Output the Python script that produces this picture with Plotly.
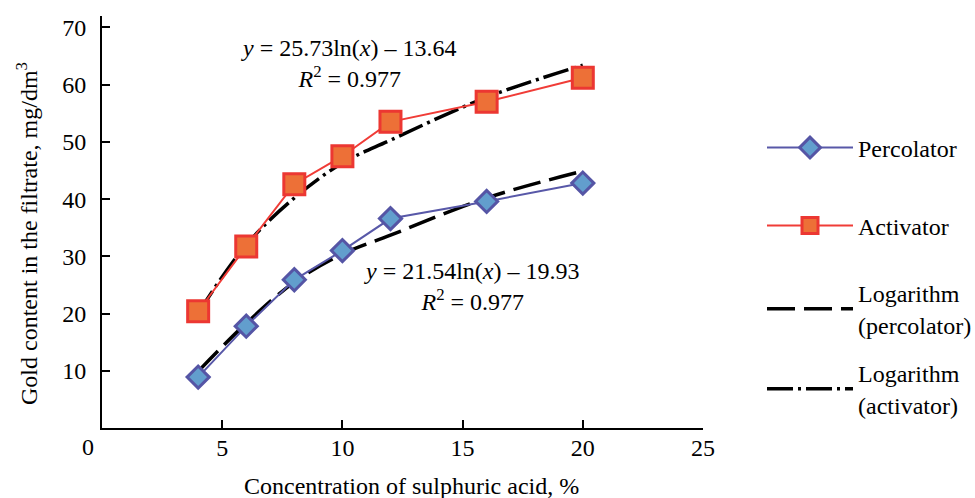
import plotly.graph_objects as go

conc = [4, 6, 8, 10, 12, 16, 20]
percolator = [8.9, 17.8, 25.9, 31.0, 36.6, 39.6, 42.8]
activator = [20.4, 31.7, 42.6, 47.5, 53.5, 57.0, 61.2]
log_percolator = [9.9, 18.3, 25.5, 30.4, 33.7, 40.2, 44.9]
log_activator = [20.1, 32.0, 40.2, 46.3, 50.3, 57.8, 63.4]

x_ticks = [5, 10, 15, 20, 25]
y_ticks = [10, 20, 30, 40, 50, 60, 70]

FONT = "Liberation Serif"
FS = 24

fig = go.Figure()

fig.add_trace(go.Scatter(
    x=conc, y=log_percolator, mode="lines", name="Logarithm<br>(percolator)",
    line=dict(color="black", width=3.5, dash="28px,9px", shape="spline"),
    legend="legend3", showlegend=True))
fig.add_trace(go.Scatter(
    x=conc, y=log_activator, mode="lines", name="Logarithm<br>(activator)",
    line=dict(color="black", width=3.5, dash="26px,5px,3px,5px", shape="spline"),
    legend="legend4", showlegend=True))
fig.add_trace(go.Scatter(
    x=conc, y=percolator, mode="lines+markers", name="Percolator",
    line=dict(color="rgb(88,88,168)", width=2),
    marker=dict(symbol="diamond", size=17, color="rgb(98,158,205)",
                line=dict(color="rgb(85,85,165)", width=3)),
    legend="legend", showlegend=True))
fig.add_trace(go.Scatter(
    x=conc, y=activator, mode="lines+markers", name="Activator",
    line=dict(color="rgb(240,60,55)", width=2),
    marker=dict(symbol="square", size=21, color="rgb(237,112,55)",
                line=dict(color="rgb(236,55,50)", width=3)),
    legend="legend2", showlegend=True))

# plot area: left 102, right 703, top 16, bottom 428
L, R, T, B = 102, 272, 16, 70
ph = 498 - T - B
pw = 975 - L - R


def ly(pix):
    return (498 - B - pix) / ph


def lx(pix):
    return (pix - L) / pw


leg_common = dict(x=lx(762), xanchor="left", yanchor="middle",
                  font=dict(family=FONT, size=FS, color="black"),
                  bgcolor="rgba(0,0,0,0)", itemwidth=86)

fig.update_layout(
    width=975, height=498,
    showlegend=True,
    margin=dict(l=L, r=R, t=T, b=B, autoexpand=False),
    paper_bgcolor="white", plot_bgcolor="white",
    font=dict(family=FONT, size=FS, color="black"),
    legend=dict(y=ly(148), **leg_common),
    legend2=dict(y=ly(226), **leg_common),
    legend3=dict(y=ly(309), **leg_common),
    legend4=dict(y=ly(389), **leg_common),
    xaxis=dict(range=[0, 25], tickvals=x_ticks, ticktext=[str(v) for v in x_ticks],
               ticks="inside", ticklen=8, tickwidth=1.5, tickcolor="black",
               showline=True, linecolor="black", linewidth=2, showgrid=False,
               zeroline=False, ticklabelstandoff=-3, automargin=False),
    yaxis=dict(range=[0, 72], tickvals=y_ticks, ticktext=[str(v) for v in y_ticks],
               ticks="inside", ticklen=8, tickwidth=1.5, tickcolor="black",
               showline=True, linecolor="black", linewidth=2, showgrid=False,
               zeroline=False, ticklabelstandoff=9, automargin=False),
    annotations=[
        dict(x=0, y=0, xref="x", yref="y", text="0", showarrow=False,
             xanchor="center", yanchor="middle", xshift=-14, yshift=-19,
             font=dict(family=FONT, size=FS)),
        dict(x=lx(411), y=ly(486), xref="paper", yref="paper", showarrow=False,
             xanchor="center", yanchor="middle",
             text="Concentration of sulphuric acid, %",
             font=dict(family=FONT, size=FS)),
        dict(x=lx(27), y=ly(234), xref="paper", yref="paper", showarrow=False,
             xanchor="center", yanchor="middle", textangle=-90,
             text="Gold content in the filtrate, mg/dm<sup>3</sup>",
             font=dict(family=FONT, size=FS)),
        dict(x=lx(349), y=ly(64), xref="paper", yref="paper", showarrow=False,
             xanchor="center", yanchor="middle",
             text="<i>y</i> = 25.73ln(<i>x</i>) – 13.64<br><i>R</i><sup>2</sup> = 0.977",
             align="center", font=dict(family=FONT, size=FS)),
        dict(x=lx(472), y=ly(286), xref="paper", yref="paper", showarrow=False,
             xanchor="center", yanchor="middle",
             text="<i>y</i> = 21.54ln(<i>x</i>) – 19.93<br><i>R</i><sup>2</sup> = 0.977",
             align="center", font=dict(family=FONT, size=FS)),
    ],
)

fig.write_html("out.html", config={"displayModeBar": False},
               post_script="document.body.style.margin='0px';")
